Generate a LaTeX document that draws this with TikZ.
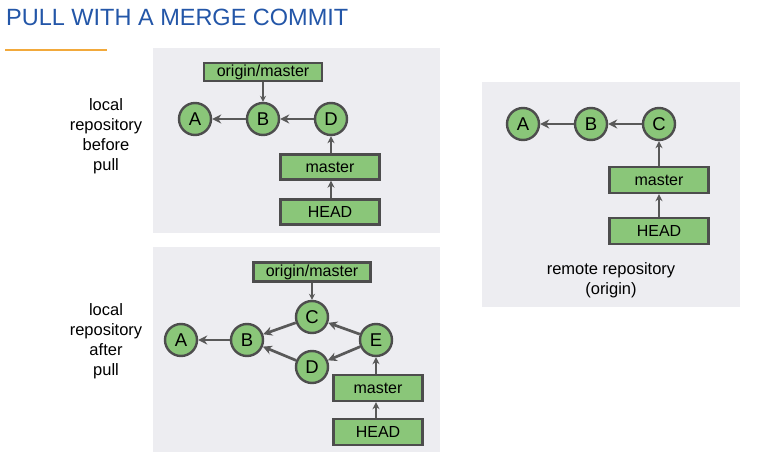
\documentclass[tikz,border=0pt]{standalone}
\usepackage{fontspec}
\setmainfont{Liberation Sans}
\usetikzlibrary{arrows.meta}
\definecolor{panelgray}{HTML}{EDEDF1}
\definecolor{nodegreen}{HTML}{8AC679}
\definecolor{edgegray}{HTML}{4D4D4D}
\definecolor{arrowgray}{HTML}{595959}
\definecolor{titleblue}{HTML}{2356A8}
\definecolor{lineorange}{HTML}{F2A93B}
\tikzset{
  panel/.style={fill=panelgray, draw=none},
  commit/.style={circle, fill=nodegreen, draw=edgegray, line width=2.4pt, minimum size=32pt, inner sep=0pt, font=\fontsize{18.5}{18.5}\selectfont},
  ref/.style={rectangle, fill=nodegreen, draw=edgegray, line width=2.4pt, inner sep=0pt, font=\fontsize{16}{16}\selectfont},
  parent/.style={-{Stealth[length=9pt,width=9pt]}, draw=arrowgray, line width=2.7pt},
  ptr/.style={-{Stealth[length=7pt,width=7pt]}, draw=arrowgray, line width=2pt},
  thinptr/.style={-{Stealth[length=6pt,width=6pt]}, draw=arrowgray, line width=1.1pt},
  lbl/.style={align=center, font=\fontsize{16.5}{20}\selectfont}
}
\begin{document}
\begin{tikzpicture}[x=1pt,y=-1pt]
\useasboundingbox (0,0) rectangle (768,454);
\fill[white] (0,0) rectangle (768,454);
% title
\node[anchor=base west, inner sep=0pt, text=titleblue, font=\fontsize{23.5}{24}\selectfont] (title) at (6,26) {PULL WITH A MERGE COMMIT};
\fill[lineorange] (5,49) rectangle (107,51.5);
% panels
\fill[panel] (153,48) rectangle (440,233);
\fill[panel] (153,247) rectangle (440,452);
\fill[panel] (482,82) rectangle (740,307);

% ---- panel 1: local before pull
\node[lbl] (l1) at (106,136) {local\\repository\\before\\pull};
\node[ref, minimum width=118pt, minimum height=18pt] (om1) at (263,72) {origin/master};
\node[commit] (a1) at (195,119) {A};
\node[commit] (b1) at (263,119) {B};
\node[commit] (d1) at (331,119) {D};
\node[ref, minimum width=99pt, minimum height=25pt] (m1) at (330,167) {master};
\node[ref, minimum width=99pt, minimum height=25pt] (h1) at (330,212) {HEAD};
\draw[parent] (b1) -- (a1);
\draw[parent] (d1) -- (b1);
\draw[thinptr] (om1) -- (b1);
\draw[ptr] (m1.north -| d1) -- (d1);
\draw[ptr] (h1.north -| d1) -- (m1.south -| d1);

% ---- panel 2: local after pull
\node[lbl] (l2) at (106,341) {local\\repository\\after\\pull};
\node[ref, minimum width=117pt, minimum height=19pt] (om2) at (312,272) {origin/master};
\node[commit] (a2) at (181,340) {A};
\node[commit] (b2) at (247,340) {B};
\node[commit] (c2) at (312,317) {C};
\node[commit] (d2) at (312,367) {D};
\node[commit] (e2) at (376,340) {E};
\node[ref, minimum width=89pt, minimum height=26pt] (m2) at (378,388) {master};
\node[ref, minimum width=89pt, minimum height=26pt] (h2) at (378,432) {HEAD};
\draw[parent] (b2) -- (a2);
\draw[parent] (c2) -- (b2);
\draw[parent] (d2) -- (b2);
\draw[parent] (e2) -- (c2);
\draw[parent] (e2) -- (d2);
\draw[thinptr] (om2) -- (c2);
\draw[ptr] (m2.north -| e2) -- (e2);
\draw[ptr] (h2.north -| e2) -- (m2.south -| e2);

% ---- panel 3: remote
\node[commit] (a3) at (523,124) {A};
\node[commit] (b3) at (591,124) {B};
\node[commit] (c3) at (659,124) {C};
\node[ref, minimum width=99pt, minimum height=26pt] (m3) at (659,180) {master};
\node[ref, minimum width=99pt, minimum height=26pt] (h3) at (659,231) {HEAD};
\draw[parent] (b3) -- (a3);
\draw[parent] (c3) -- (b3);
\draw[ptr] (m3) -- (c3);
\draw[ptr] (h3) -- (m3);
\node[lbl] (l3) at (611,280) {remote repository\\(origin)};
\end{tikzpicture}
\end{document}
